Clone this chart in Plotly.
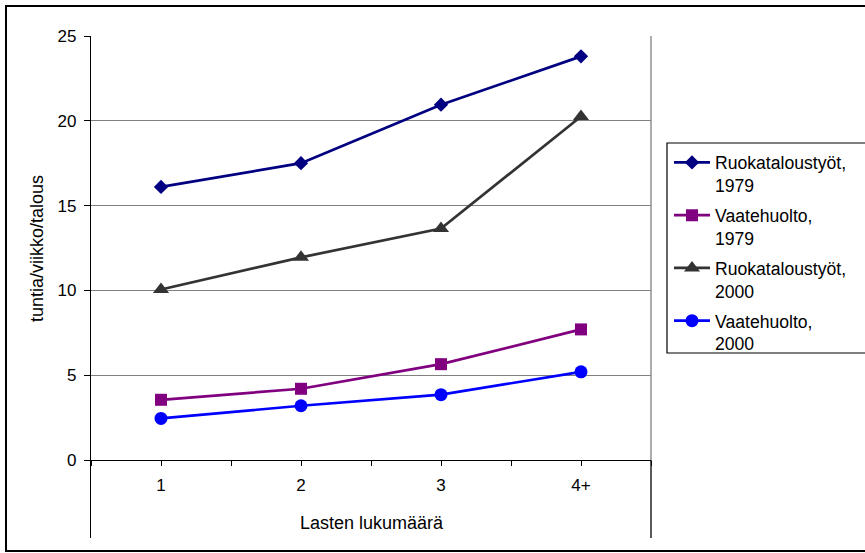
import plotly.graph_objects as go

# Household work hours per week by number of children
categories = ["1", "2", "3", "4+"]
ruoka_1979 = [16.1, 17.5, 20.95, 23.8]
vaate_1979 = [3.55, 4.2, 5.65, 7.7]
ruoka_2000 = [10.05, 11.95, 13.65, 20.25]
vaate_2000 = [2.45, 3.2, 3.85, 5.2]

series = [
    ("Ruokataloustyöt,<br>1979", ruoka_1979, "#000080", "diamond", 11),
    ("Vaatehuolto,<br>1979", vaate_1979, "#800080", "square", 12),
    ("Ruokataloustyöt,<br>2000", ruoka_2000, "#333333", "triangle-up", 14),
    ("Vaatehuolto,<br>2000", vaate_2000, "#0000FF", "circle", 13),
]

W, H = 865, 553
L, R, T, B = 91, 651, 36, 538          # plot area in pixels
Y0_PX = 460                             # pixel row of value 0
Y_TOP = 25
y_bottom = -(B - Y0_PX) * Y_TOP / (Y0_PX - T)


def px_x(p):
    return (p - L) / (R - L)


def px_y(p):
    return (B - p) / (B - T)


FONT = "Liberation Sans, Arial, sans-serif"

fig = go.Figure()
x_idx = list(range(len(categories)))
for i, (name, vals, color, symbol, size) in enumerate(series):
    fig.add_trace(go.Scatter(
        x=x_idx, y=vals, name=name, mode="lines+markers",
        legendgroup=f"g{i}",
        line=dict(color=color, width=2.7),
        marker=dict(symbol=symbol, size=size, color=color),
    ))

tickvals = [i / 2 - 0.5 for i in range(2 * len(categories) + 1)]
ticktext = [categories[int(v)] if v == int(v) and 0 <= v < len(categories) else ""
            for v in tickvals]

fig.update_layout(
    width=W, height=H,
    margin=dict(l=L, r=W - R, t=T, b=H - B),
    plot_bgcolor="white", paper_bgcolor="white",
    font=dict(family=FONT, size=17, color="black"),
    showlegend=True,
    legend=dict(
        x=px_x(669), y=px_y(144.5), xanchor="left", yanchor="top",
        borderwidth=0, bgcolor="rgba(0,0,0,0)", valign="top",
        font=dict(size=17.6), tracegroupgap=4, itemwidth=36,
    ),
    xaxis=dict(
        range=[-0.5, len(categories) - 0.5],
        tickmode="array", tickvals=tickvals, ticktext=ticktext,
        ticks="outside", ticklen=5, tickcolor="black",
        showline=True, linecolor="black", linewidth=1.3,
        showgrid=False, zeroline=False,
        anchor="free", position=px_y(Y0_PX),
        ticklabelstandoff=4,
        tickfont=dict(size=17),
    ),
    yaxis=dict(
        range=[y_bottom, Y_TOP],
        tickmode="array", tickvals=[0, 5, 10, 15, 20, 25],
        ticks="outside", ticklen=6, tickcolor="black",
        showline=True, linecolor="black", linewidth=1.3,
        showgrid=True, gridcolor="#808080", gridwidth=1,
        zeroline=False, ticklabelstandoff=4,
        tickfont=dict(size=17),
    ),
)

shapes = [
    # right edge of the plot area: grey above the category axis, black below
    dict(type="line", xref="paper", yref="paper", x0=1, x1=1,
         y0=px_y(Y0_PX), y1=1, line=dict(color="#808080", width=1.3)),
    dict(type="line", xref="paper", yref="paper", x0=1, x1=1,
         y0=0, y1=px_y(Y0_PX), line=dict(color="black", width=1.3)),
    # legend frame
    dict(type="rect", xref="paper", yref="paper",
         x0=px_x(667), x1=px_x(880), y0=px_y(353), y1=px_y(143),
         line=dict(color="black", width=1.2)),
    # chart frame
    dict(type="rect", xref="paper", yref="paper",
         x0=px_x(6), x1=px_x(875), y0=px_y(551), y1=px_y(6),
         line=dict(color="black", width=2), layer="below"),
]
fig.update_layout(shapes=shapes)

fig.add_annotation(
    text="tuntia/viikko/talous", xref="paper", yref="paper",
    x=px_x(37), y=px_y(249), textangle=-90, showarrow=False,
    xanchor="center", yanchor="middle", font=dict(size=18),
)
fig.add_annotation(
    text="Lasten lukumäärä", xref="paper", yref="paper",
    x=px_x(372), y=px_y(523), showarrow=False,
    xanchor="center", yanchor="middle", font=dict(size=18),
)

fig.write_html("out.html")
